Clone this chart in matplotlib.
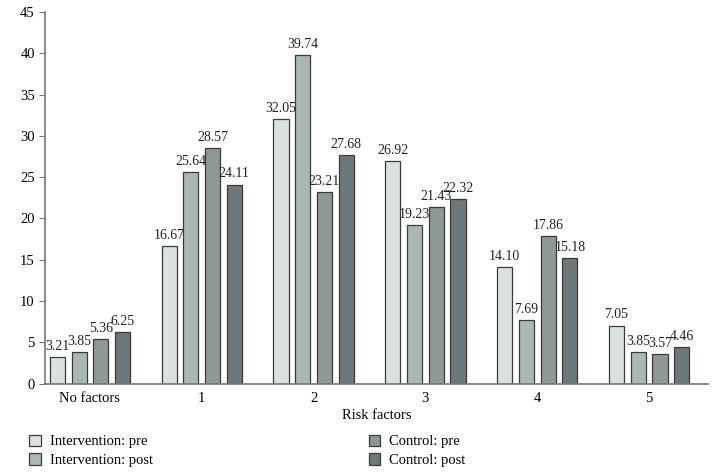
import numpy as np
import matplotlib.pyplot as plt
from matplotlib.patches import Patch

plt.rcParams["font.family"] = ["Liberation Serif", "DejaVu Serif"]

categories = ["No factors", "1", "2", "3", "4", "5"]
series_names = ["Intervention: pre", "Intervention: post", "Control: pre", "Control: post"]
intervention_pre = [3.21, 16.67, 32.05, 26.92, 14.10, 7.05]
intervention_post = [3.85, 25.64, 39.74, 19.23, 7.69, 3.85]
control_pre = [5.36, 28.57, 23.21, 21.43, 17.86, 3.57]
control_post = [6.25, 24.11, 27.68, 22.32, 15.18, 4.46]

series = [intervention_pre, intervention_post, control_pre, control_post]
colors = ["#d9e2e0", "#a9b7b5", "#8c9997", "#6c7978"]

fig = plt.figure(figsize=(7.17, 4.75), dpi=100)
ax = fig.add_axes([0.063, 0.192, 0.925, 0.783])

x = np.arange(len(categories))
pitch = 0.194
width = 0.135
for i, (vals, c) in enumerate(zip(series, colors)):
    pos = x + (i - 1.5) * pitch
    ax.bar(pos, vals, width=width, color=c, edgecolor="#3a3a3a", linewidth=0.9)
    for p, v in zip(pos, vals):
        ax.text(p, v + 0.5, f"{v:.2f}", ha="center", va="bottom", fontsize=10, color="#222222")

ax.set_xlim(-0.4, 5.53)
ax.set_ylim(0, 45)
ax.set_yticks(range(0, 46, 5))
ax.set_xticks(x)
ax.set_xticklabels(categories)
ax.tick_params(axis="x", length=0, labelsize=10.5, pad=6)
ax.tick_params(axis="y", length=4, labelsize=10.5, color="#777777", direction="out")
ax.set_xlabel("Risk factors", fontsize=10.5, labelpad=3)
for s in ["top", "right"]:
    ax.spines[s].set_visible(False)
for s in ["left", "bottom"]:
    ax.spines[s].set_color("#777777")
    ax.spines[s].set_linewidth(1.2)

handles = [Patch(facecolor=c, edgecolor="#3a3a3a", linewidth=0.9) for c in colors]
fig.legend(handles, series_names, ncol=2, loc="upper left", bbox_to_anchor=(0.041, 0.085),
           frameon=False, fontsize=10.5, handlelength=0.8, handleheight=0.8,
           handletextpad=0.6, columnspacing=14.8, labelspacing=0.35, borderaxespad=0, borderpad=0)

fig.savefig("out.png", dpi=100)
